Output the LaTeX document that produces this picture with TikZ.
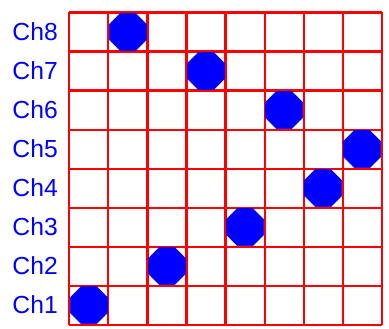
\documentclass[tikz,border=0pt]{standalone}
\usepackage{fontspec}
\setmainfont{Liberation Sans}
\usetikzlibrary{shapes.geometric}
\tikzset{
  chlabel/.style={text=blue, font=\fontsize{18}{20}\selectfont, inner sep=0pt},
  hopdot/.style={regular polygon, regular polygon sides=8, minimum size=1.03cm,
    inner sep=0pt, fill=blue, draw=blue!85!black, line width=0.4pt}
}

\begin{document}
\begin{tikzpicture}
      \useasboundingbox (-1.78,-0.09) rectangle (8.19,8.32);
      \draw [red, line width=1.5pt] (0,0) grid (8,8);

      \node [chlabel] (ch1) at (-0.88,0.5) {Ch1};
      \node [chlabel] (ch2) at (-0.88,1.5) {Ch2};
      \node [chlabel] (ch3) at (-0.88,2.5) {Ch3};
      \node [chlabel] (ch4) at (-0.88,3.5) {Ch4};
      \node [chlabel] (ch5) at (-0.88,4.5) {Ch5};
      \node [chlabel] (ch6) at (-0.88,5.5) {Ch6};
      \node [chlabel] (ch7) at (-0.88,6.5) {Ch7};
      \node [chlabel] (ch8) at (-0.88,7.5) {Ch8};

      \node [hopdot] (hop1) at (0.5,0.5) {};
      \node [hopdot] (hop2) at (2.5,1.5) {};
      \node [hopdot] (hop3) at (4.5,2.5) {};
      \node [hopdot] (hop4) at (6.5,3.5) {};
      \node [hopdot] (hop5) at (7.5,4.5) {};
      \node [hopdot] (hop6) at (5.5,5.5) {};
      \node [hopdot] (hop7) at (3.5,6.5) {};
      \node [hopdot] (hop8) at (1.5,7.5) {};
\end{tikzpicture}
\end{document}
